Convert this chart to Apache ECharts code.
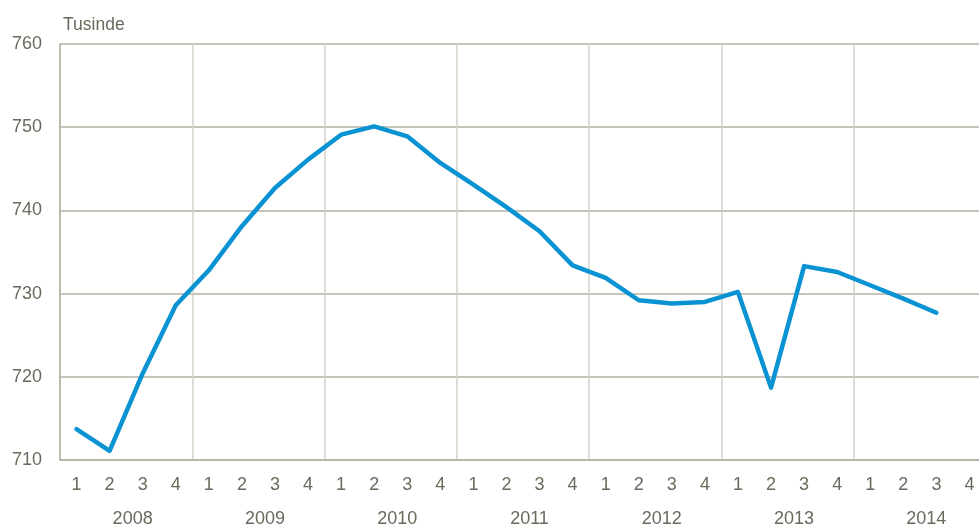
<!DOCTYPE html>
<html>
<head>
<meta charset="utf-8">
<script src="https://cdn.jsdelivr.net/npm/echarts@6/dist/echarts.min.js"></script>
<style>
  html, body { margin: 0; padding: 0; background: #fff; }
  #chart { width: 979px; height: 530px; }
</style>
</head>
<body>
<div id="chart"></div>
<script>
// Quarterly series, thousands, 2008 Q1 .. 2014 Q3
const years = ['2008', '2009', '2010', '2011', '2012', '2013', '2014'];
const quarters = ['1', '2', '3', '4'];
const values = [
  713.7, 711.1, 720.4, 728.6,
  732.8, 738.1, 742.7, 746.1,
  749.1, 750.1, 748.9, 745.7,
  743.1, 740.4, 737.5, 733.4,
  731.9, 729.2, 728.8, 729.0,
  730.2, 718.7, 733.3, 732.6,
  731.0, 729.4, 727.7
];
const yTicks = { min: 710, max: 760, interval: 10 };

const quarterCats = [];
years.forEach(y => quarters.forEach(q => quarterCats.push(y + '-' + q)));

const TEXT = '#6a695c';
const FONT = '"Liberation Sans", Arial, sans-serif';

const chart = echarts.init(document.getElementById('chart'), null, { renderer: 'canvas' });

chart.setOption({
  animation: false,
  backgroundColor: '#fff',
  textStyle: { fontFamily: FONT, color: TEXT },
  // plot runs a bit past the right edge of the canvas, as in the original
  grid: {
    left: 60, width: 926, top: 44, bottom: 70,
    containLabel: false,
    outerBoundsMode: 'none',
  },
  xAxis: [
    {
      type: 'category',
      data: quarterCats,
      boundaryGap: true,
      axisLine: { show: true, lineStyle: { color: '#b3b1a5', width: 1.5 } },
      axisTick: { show: false },
      axisLabel: {
        color: TEXT,
        fontSize: 18,
        fontFamily: FONT,
        margin: 16,
        interval: 0,
        formatter: (v) => v.split('-')[1],
      },
      splitLine: {
        show: true,
        interval: (i) => i % 4 === 0,
        lineStyle: { color: '#d3d2c8', width: 1.5 },
      },
    },
    {
      type: 'category',
      data: years,
      position: 'bottom',
      boundaryGap: true,
      axisLine: { show: false },
      axisTick: { show: false },
      splitLine: { show: false },
      axisLabel: {
        color: TEXT,
        fontSize: 18,
        fontFamily: FONT,
        margin: 50,
        interval: 0,
        padding: [0, 0, 0, 13],
      },
    },
  ],
  yAxis: {
    type: 'value',
    min: yTicks.min,
    max: yTicks.max,
    interval: yTicks.interval,
    name: 'Tusinde',
    nameLocation: 'end',
    nameGap: 10,
    nameTextStyle: {
      color: TEXT,
      fontSize: 17.5,
      fontFamily: FONT,
      align: 'left',
      verticalAlign: 'bottom',
      padding: [0, 0, 0, 3],
    },
    axisLine: { show: true, lineStyle: { color: '#b3b1a5', width: 1.5 } },
    axisTick: { show: false },
    axisLabel: { color: TEXT, fontSize: 18, fontFamily: FONT, margin: 18 },
    splitLine: { show: true, lineStyle: { color: '#b3b1a5', width: 1.5 } },
  },
  series: [
    {
      type: 'line',
      xAxisIndex: 0,
      data: values,
      showSymbol: false,
      symbol: 'none',
      lineStyle: { color: '#0a93d2', width: 4.5, cap: 'round', join: 'round' },
    },
  ],
});
</script>
</body>
</html>
